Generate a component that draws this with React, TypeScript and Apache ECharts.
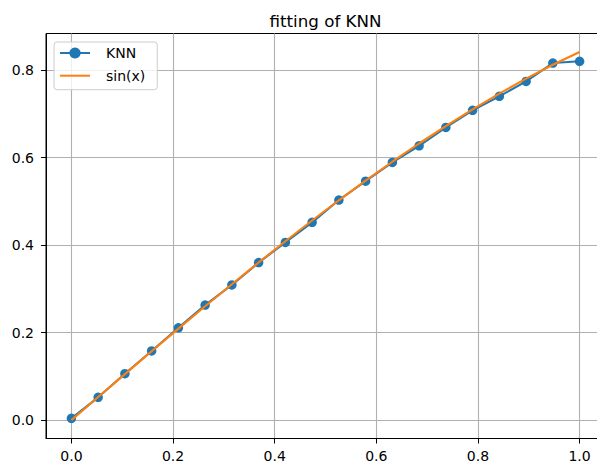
import React, { useEffect, useRef } from "react";
import * as echarts from "echarts";

const xValues = [
  0, 0.05263, 0.10526, 0.15789, 0.21053, 0.26316, 0.31579, 0.36842, 0.42105, 0.47368,
  0.52632, 0.57895, 0.63158, 0.68421, 0.73684, 0.78947, 0.84211, 0.89474, 0.94737, 1,
];
const knnValues = [
  0.004, 0.052, 0.106, 0.158, 0.211, 0.263, 0.309, 0.36, 0.406, 0.452,
  0.503, 0.546, 0.589, 0.627, 0.669, 0.708, 0.74, 0.774, 0.816, 0.82,
];
const sinValues = [
  0, 0.05261, 0.10507, 0.15724, 0.20897, 0.26013, 0.31057, 0.36015, 0.40873, 0.45619,
  0.50239, 0.5472, 0.5905, 0.63217, 0.6721, 0.71017, 0.74628, 0.78033, 0.81223, 0.84147,
];
const xTicks = [0, 0.2, 0.4, 0.6, 0.8, 1.0];
const yTicks = [0, 0.2, 0.4, 0.6, 0.8];

const FONT = "DejaVu Sans";

export default function App() {
  const ref = useRef<HTMLDivElement>(null);
  useEffect(() => {
    if (!ref.current) return;
    const chart = echarts.init(ref.current, undefined, { renderer: "svg" });
    const knnData = xValues.map((x, i) => [x, knnValues[i]]);
    const sinData = xValues.map((x, i) => [x, sinValues[i]]);
    chart.setOption({
      animation: false,
      backgroundColor: "#ffffff",
      textStyle: { fontFamily: FONT },
      graphic: [
        {
          type: "text",
          style: {
            text: "fitting of KNN",
            x: 325.5,
            y: 12,
            textAlign: "center",
            textVerticalAlign: "top",
            fontFamily: FONT,
            fontSize: 16.7,
            fill: "#000",
          },
        },
      ],
      grid: {
        left: 46,
        top: 33.5,
        width: 559,
        height: 405,
        show: true,
        borderColor: "#000",
        borderWidth: 1,
        backgroundColor: "transparent",
        containLabel: false,
      },
      legend: {
        orient: "vertical",
        left: 54,
        top: 42,
        padding: [4, 12, 7, 5],
        itemWidth: 30,
        itemHeight: 14,
        itemGap: 8.7,
        backgroundColor: "rgba(255,255,255,0.8)",
        borderColor: "#cccccc",
        borderWidth: 1,
        borderRadius: 3,
        textStyle: { fontFamily: FONT, fontSize: 14, color: "#000", padding: [0, 0, 0, 11] },
        data: [{ name: "KNN" }, { name: "sin(x)", itemStyle: { opacity: 0 } }],
      },
      xAxis: {
        type: "value",
        min: -0.05,
        max: 1.05,
        axisLine: { show: true, onZero: false, lineStyle: { color: "#000", width: 1 } },
        axisTick: {
          show: true,
          length: 5,
          lineStyle: { color: "#000", width: 1 },
          customValues: xTicks,
        },
        axisLabel: {
          customValues: xTicks,
          formatter: (v: number) => v.toFixed(1),
          fontFamily: FONT,
          fontSize: 14,
          color: "#000",
          margin: 10,
        },
        splitLine: { show: true, lineStyle: { color: "#b0b0b0", width: 1.1 } },
      },
      yAxis: {
        type: "value",
        min: -0.0421,
        max: 0.8836,
        axisLine: { show: true, onZero: false, lineStyle: { color: "#000", width: 1 } },
        axisTick: {
          show: true,
          length: 5,
          lineStyle: { color: "#000", width: 1 },
          customValues: yTicks,
        },
        axisLabel: {
          customValues: yTicks,
          formatter: (v: number) => v.toFixed(1),
          fontFamily: FONT,
          fontSize: 14,
          color: "#000",
          margin: 12,
        },
        splitLine: { show: true, lineStyle: { color: "#b0b0b0", width: 1.1 } },
      },
      series: [
        {
          name: "KNN",
          type: "line",
          data: knnData,
          symbol: "circle",
          symbolSize: 9.5,
          showAllSymbol: true,
          color: "#1f77b4",
          lineStyle: { color: "#1f77b4", width: 2.1 },
          itemStyle: { color: "#1f77b4", borderWidth: 0 },
          z: 2,
        },
        {
          name: "sin(x)",
          type: "line",
          data: sinData,
          symbol: "none",
          color: "#ff7f0e",
          lineStyle: { color: "#ff7f0e", width: 2.1 },
          z: 3,
        },
      ],
    });
    return () => chart.dispose();
  }, []);
  return (
    <div
      style={{
        position: "absolute",
        left: 0,
        top: 0,
        width: 597,
        height: 464,
        overflow: "hidden",
        background: "#fff",
      }}
    >
      <div ref={ref} style={{ width: 640, height: 464 }} />
    </div>
  );
}
